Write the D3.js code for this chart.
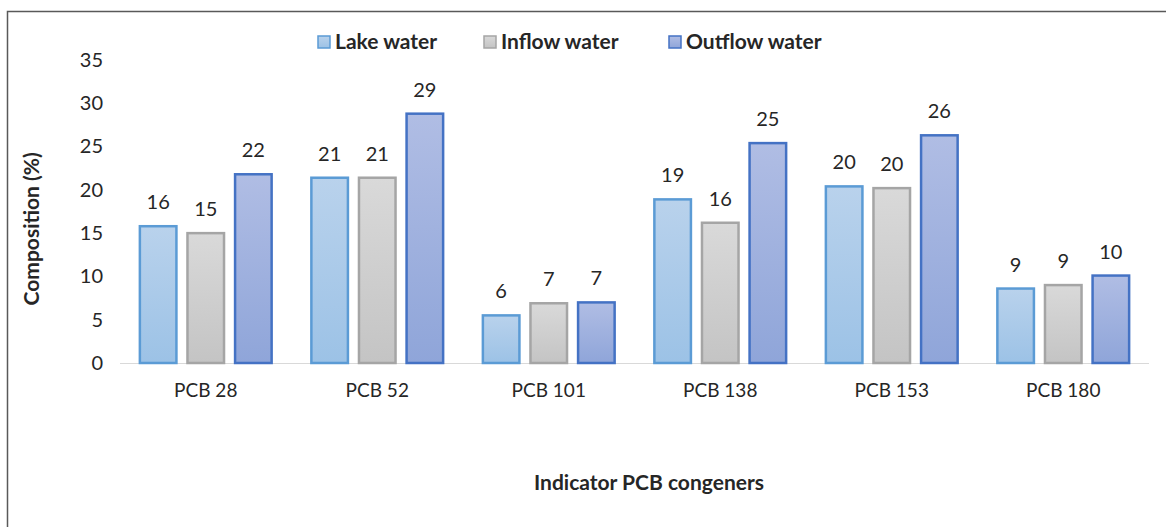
<!DOCTYPE html>
<html>
<head>
<meta charset="utf-8">
<script src="https://cdn.jsdelivr.net/npm/d3@7"></script>
<style>
  body { margin: 0; background: #fff; }
  text { font-family: Lato, "Open Sans", sans-serif; fill: #262626; }
</style>
</head>
<body>
<div class="chart"></div>
<script>
// Categories and series
var congeners = ['PCB 28', 'PCB 52', 'PCB 101', 'PCB 138', 'PCB 153', 'PCB 180'];
var seriesNames = ['Lake water', 'Inflow water', 'Outflow water'];
var lakeWater = [15.8, 21.4, 5.5, 18.9, 20.4, 8.6];
var inflowWater = [15.0, 21.4, 6.9, 16.2, 20.2, 9.0];
var outflowWater = [21.8, 28.8, 7.0, 25.4, 26.3, 10.1];
var yTicks = [0, 5, 10, 15, 20, 25, 30, 35];

var seriesValues = [lakeWater, inflowWater, outflowWater];

var width = 1166;
var height = 527;
var padding = {left: 120, right: 17, top: 60, bottom: 164};

var svg = d3.select(".chart")
    .append("svg")
    .attr("width", width)
    .attr("height", height);

// Outer frame
svg.append("path")
    .attr("d", "M7.5," + height + "V11.5H" + width)
    .attr("fill", "none")
    .attr("stroke", "#595959")
    .attr("stroke-width", 1.5);

var defs = svg.append("defs");
var fills = [
    {stroke: "#5b9bd5", top: "#b9d2ec", bottom: "#9cc2e6"},
    {stroke: "#a5a5a5", top: "#d9d9d9", bottom: "#c4c4c4"},
    {stroke: "#4472c4", top: "#b0bde4", bottom: "#8fa5d9"}
];
fills.forEach(function(f, i) {
    var g = defs.append("linearGradient")
        .attr("id", "grad" + i)
        .attr("x1", 0).attr("y1", 0).attr("x2", 0).attr("y2", 1);
    g.append("stop").attr("offset", "0%").attr("stop-color", f.top);
    g.append("stop").attr("offset", "100%").attr("stop-color", f.bottom);
});

var xScale = d3.scaleBand()
    .domain(congeners)
    .range([padding.left, width - padding.right])
    .paddingInner(0.22)
    .paddingOuter(0.11);

var subScale = d3.scaleBand()
    .domain(d3.range(seriesNames.length))
    .range([0, xScale.bandwidth()])
    .paddingInner(0.19);

var yScale = d3.scaleLinear()
    .domain([0, 35])
    .range([height - padding.bottom, padding.top]);

// Y axis labels (no line)
var yAxis = d3.axisLeft(yScale)
    .tickValues(yTicks)
    .tickSize(0)
    .tickPadding(0);
var yg = svg.append("g")
    .attr("transform", "translate(103,0)")
    .call(yAxis);
yg.select(".domain").remove();
yg.selectAll("text")
    .style("font-size", "20px")
    .attr("fill", "#262626");

// Baseline
svg.append("line")
    .attr("x1", padding.left)
    .attr("x2", width - padding.right)
    .attr("y1", yScale(0) + 0.5)
    .attr("y2", yScale(0) + 0.5)
    .attr("stroke", "#d9d9d9")
    .attr("stroke-width", 1);

// X axis labels
var xAxis = d3.axisBottom(xScale).tickSize(0).tickPadding(0);
var xg = svg.append("g")
    .attr("transform", "translate(0," + (yScale(0) + 20) + ")")
    .call(xAxis);
xg.select(".domain").remove();
xg.selectAll("text")
    .style("font-size", "19px")
    .attr("fill", "#262626");

// Bars
var groups = svg.selectAll(".group")
    .data(congeners)
    .enter()
    .append("g")
    .attr("class", "group")
    .attr("transform", function(d) { return "translate(" + xScale(d) + ",0)"; });

groups.selectAll("rect")
    .data(function(d, i) {
        return seriesValues.map(function(s, j) { return {series: j, value: s[i]}; });
    })
    .enter()
    .append("rect")
    .attr("x", function(d) { return subScale(d.series) + 1; })
    .attr("y", function(d) { return yScale(d.value); })
    .attr("width", subScale.bandwidth() - 2)
    .attr("height", function(d) { return yScale(0) - yScale(d.value); })
    .attr("fill", function(d) { return "url(#grad" + d.series + ")"; })
    .attr("stroke", function(d) { return fills[d.series].stroke; })
    .attr("stroke-width", 2.5);

// Value labels
groups.selectAll(".val")
    .data(function(d, i) {
        return seriesValues.map(function(s, j) { return {series: j, value: s[i]}; });
    })
    .enter()
    .append("text")
    .attr("class", "val")
    .attr("x", function(d) { return subScale(d.series) + subScale.bandwidth() / 2; })
    .attr("y", function(d) { return yScale(d.value) - 17; })
    .attr("text-anchor", "middle")
    .style("font-size", "20px")
    .text(function(d) { return d3.format(".0f")(d.value); });

// Axis titles
svg.append("text")
    .attr("transform", "translate(39," + (yScale(15.5)) + ") rotate(-90)")
    .attr("text-anchor", "middle")
    .style("font-size", "21px")
    .style("font-weight", "bold")
    .attr("fill", "#000")
    .text("Composition (%)");

svg.append("text")
    .attr("x", 649)
    .attr("y", 490)
    .attr("text-anchor", "middle")
    .style("font-size", "21px")
    .style("font-weight", "bold")
    .attr("fill", "#000")
    .text("Indicator PCB congeners");

// Legend
var legendX = [318, 484, 669];
var legend = svg.selectAll(".legend")
    .data(seriesNames)
    .enter()
    .append("g")
    .attr("class", "legend")
    .attr("transform", function(d, i) { return "translate(" + legendX[i] + ",36)"; });
legend.append("rect")
    .attr("width", 12)
    .attr("height", 12)
    .attr("fill", function(d, i) { return "url(#grad" + i + ")"; })
    .attr("stroke", function(d, i) { return fills[i].stroke; })
    .attr("stroke-width", 1.5);
legend.append("text")
    .attr("x", 17)
    .attr("y", 13)
    .style("font-size", "21px")
    .style("font-weight", "bold")
    .attr("fill", "#000")
    .text(function(d) { return d; });
</script>
</body>
</html>
